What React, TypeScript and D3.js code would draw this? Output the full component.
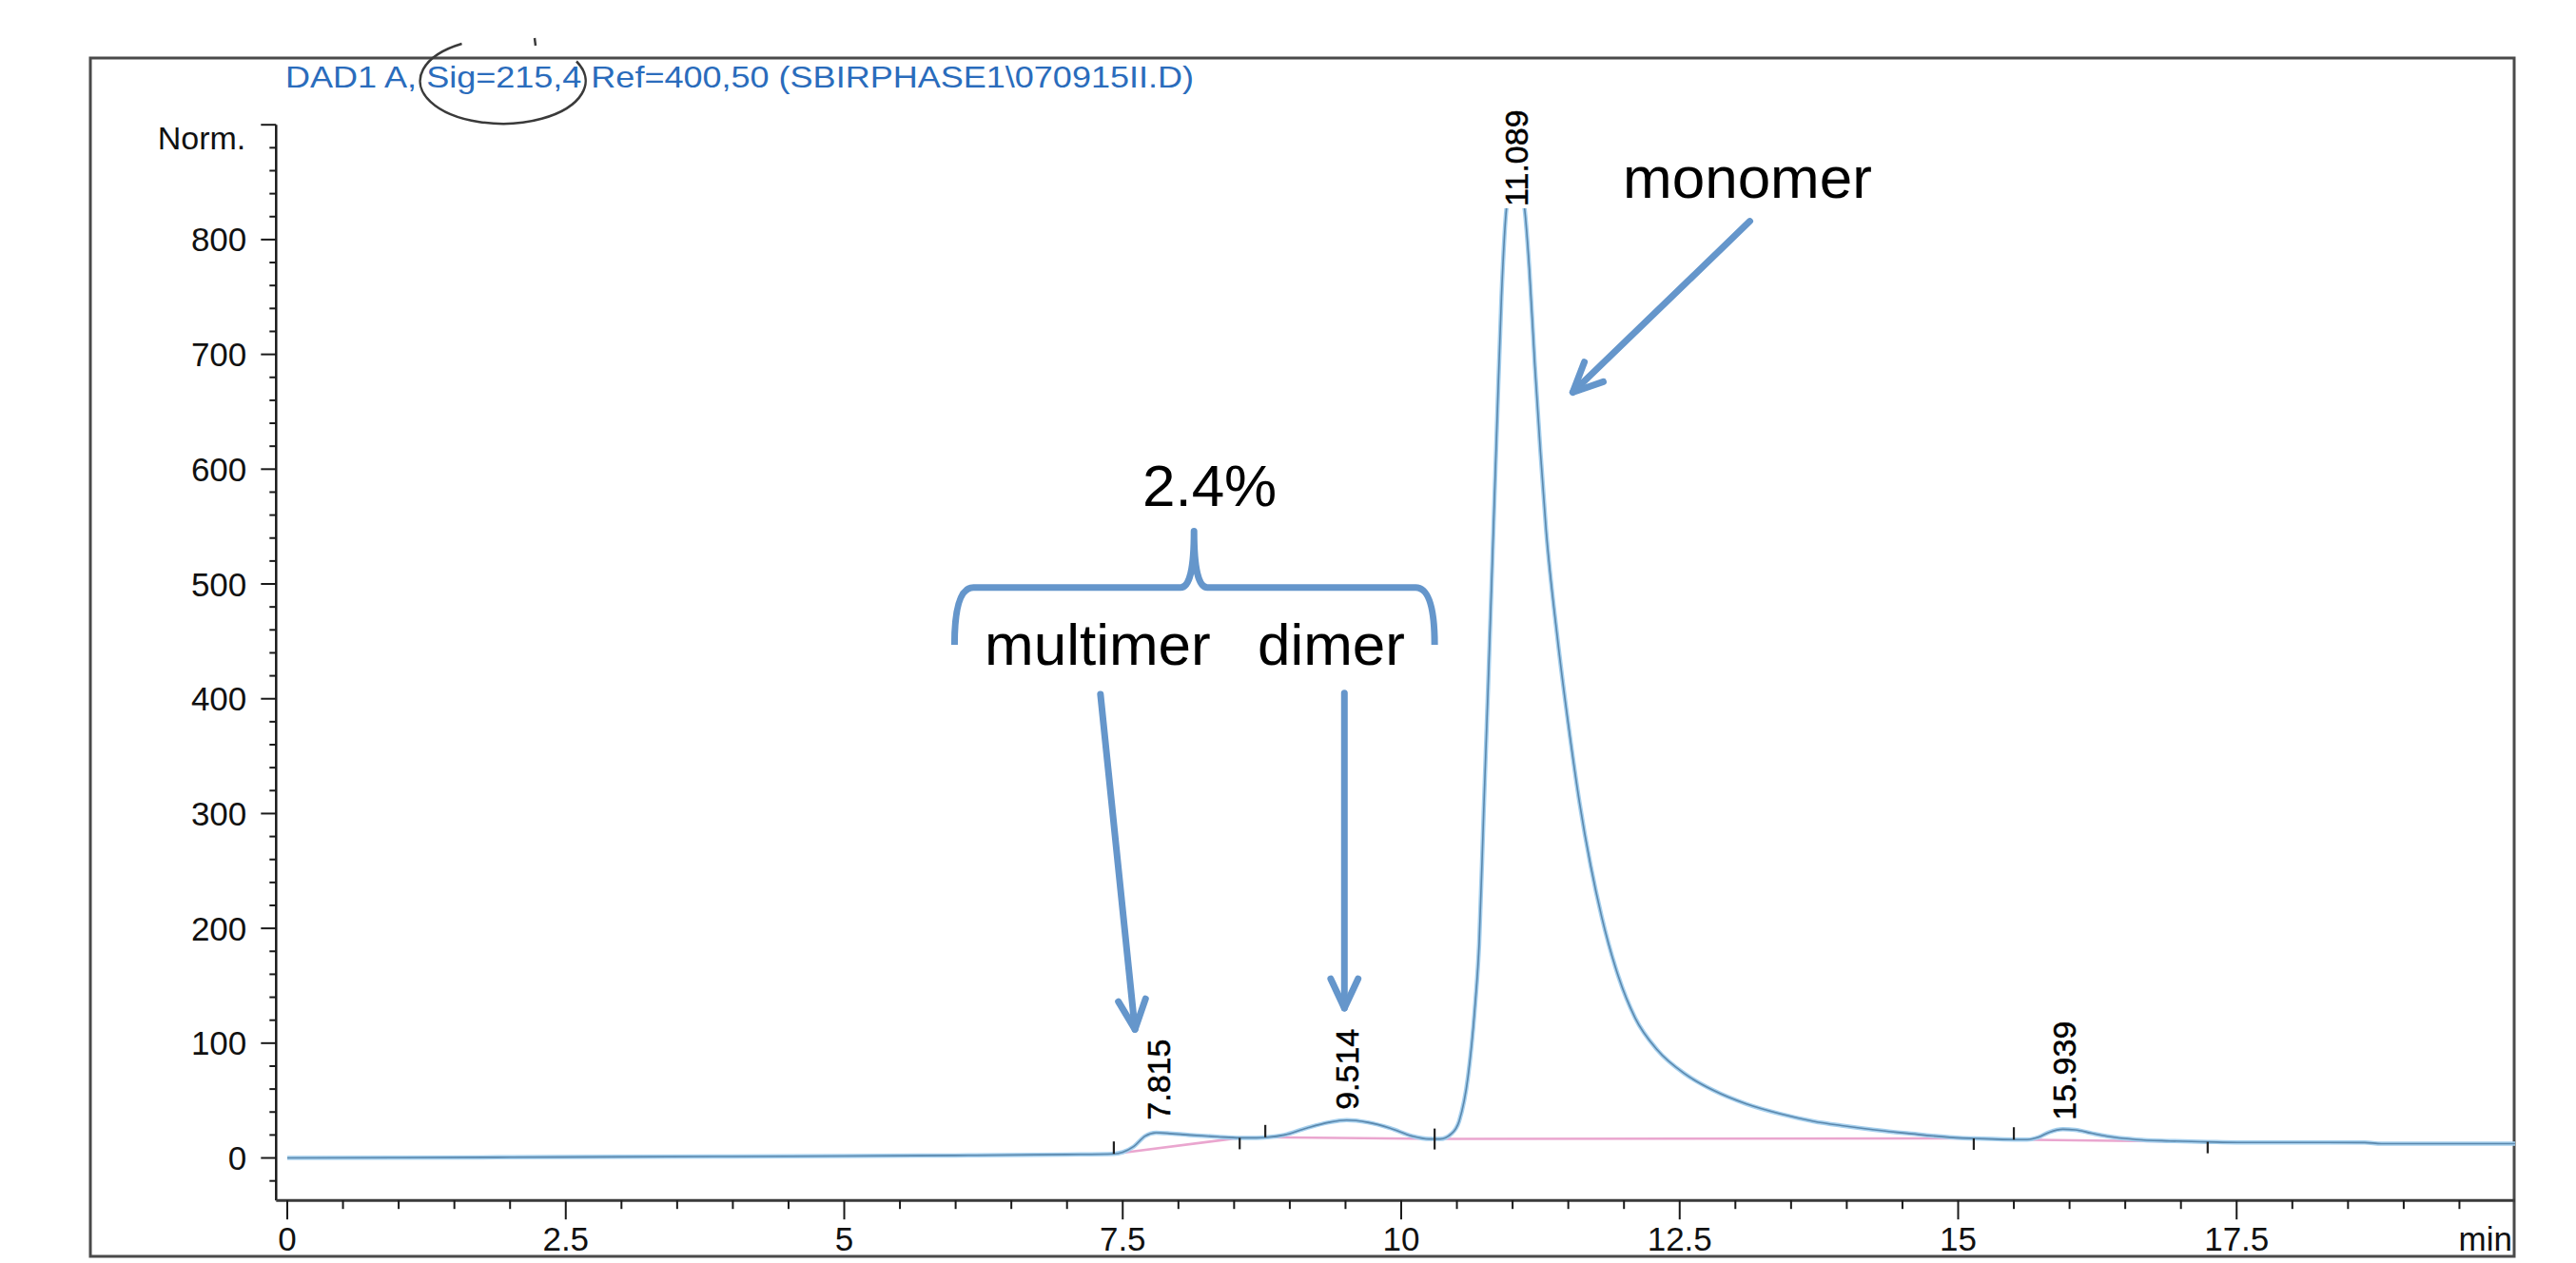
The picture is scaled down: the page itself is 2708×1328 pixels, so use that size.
import React from "react";
import * as d3 from "d3";

const W = 2708;
const H = 1328;

// ---- chromatogram trace (time in min, signal in Norm.)
const traceTime = [
  0, 1, 2, 3, 4, 5, 6, 7, 7.42, 7.5, 7.6, 7.7, 7.8, 7.9, 8.1, 8.35, 8.55, 8.7,
  8.8, 8.95, 9.15, 9.35, 9.51, 9.7, 9.9, 10.1, 10.25, 10.35, 10.45, 10.52, 10.6,
  10.66, 10.7, 10.74, 10.78, 10.82, 10.86, 10.9, 10.94, 10.98, 11.03, 11.07,
  11.11, 11.15, 11.2, 11.25, 11.3, 11.4, 11.5, 11.6, 11.7, 11.8, 11.95, 12.1,
  12.3, 12.55, 12.8, 13.1, 13.4, 13.7, 13.97, 14.25, 14.54, 15.04, 15.14, 15.3,
  15.5, 15.62, 15.72, 15.82, 15.94, 16.05, 16.2, 16.4, 16.6, 16.9, 17.24, 17.5,
  18.0, 18.65, 18.8, 19.3, 20.0,
];
const traceValue = [
  0, 0.3, 0.6, 1.0, 1.3, 1.7, 2.2, 3.0, 3.6, 5, 10, 19, 22, 21.5, 20, 18.5, 17.5,
  17.5, 18, 20, 26, 31, 33, 31, 26, 19, 16.5, 16.5, 21, 32, 71, 129, 187, 300,
  410, 525, 640, 750, 822, 848, 855, 848, 825, 775, 690, 615, 548, 455, 378, 310,
  255, 210, 158, 122, 94, 73, 59, 47, 38.5, 32, 28, 24.5, 21.5, 17.3, 17, 16.5,
  16, 16, 18, 22.5, 25, 24.5, 21.5, 18, 16, 14.8, 14, 13.5, 13.5, 13.4, 12.5,
  12.5, 12.5,
];

// ---- integration baselines (pink)
const baselineStartT = [7.42, 8.78, 10.3, 15.5];
const baselineStartV = [3.6, 18, 16.5, 16];
const baselineEndT = [8.55, 10.3, 15.14, 17.24];
const baselineEndV = [17.5, 16.5, 17, 14];

// ---- integration event ticks
const eventTimes = [7.42, 8.55, 8.78, 10.3, 15.14, 15.5, 17.24];
const eventValues = [3.6, 17.5, 18, 16.5, 17, 16, 14];
const eventSides = ["up", "down", "up", "both", "down", "up", "down"];

// ---- peak retention-time labels
const peakLabels = ["7.815", "9.514", "11.089", "15.939"];
const peakLabelTime = [7.82, 9.51, 11.03, 15.95];
const peakLabelBase = [33, 42, 829, 33];

// ---- axes
const yMajorTicks = [0, 100, 200, 300, 400, 500, 600, 700, 800];
const xMajorTicks = [0, 2.5, 5, 7.5, 10, 12.5, 15, 17.5];
const xTickLabels = ["0", "2.5", "5", "7.5", "10", "12.5", "15", "17.5"];

// ---- text
const titleText = "DAD1 A, Sig=215,4 Ref=400,50 (SBIRPHASE1\\070915II.D)";
const yUnitLabel = "Norm.";
const xUnitLabel = "min";

// ---- annotations (data coordinates: time, value)
const annotationTexts = ["2.4%", "multimer", "dimer", "monomer"];
const annotationT = [8.28, 6.26, 8.71, 11.99];
const annotationV = [568, 430, 430, 836];
const annotationAnchor = ["middle", "start", "start", "start"];

const arrowFromT = [7.3, 9.49, 13.13];
const arrowFromV = [404, 405, 816];
const arrowToT = [7.61, 9.49, 11.54];
const arrowToV = [112, 130.5, 667];

// brace: left end, right end, centre (time) ; bottom / bar / cusp (value)
const braceT = [5.99, 10.3, 8.14];
const braceV = [447, 497, 546];

const FONT = "'Liberation Sans', Arial, Helvetica, sans-serif";
const BLUE = "#6596cb";

export default function App() {
  const x = d3.scaleLinear().domain([-0.1, 20]).range([290.3, 2644]);
  const y = d3.scaleLinear().domain([-37, 900]).range([1262.2, 131.2]);

  const pts: [number, number][] = traceTime.map((t, i) => [t, traceValue[i]]);
  const line = d3
    .line<[number, number]>()
    .x((d) => x(d[0]))
    .y((d) => y(d[1]))
    .curve(d3.curveMonotoneX);
  const tracePath = line(pts) || "";

  const yMinor = d3.range(-20, 901, 20).filter((v) => v % 100 !== 0);
  const yMajorAll = [...yMajorTicks, 900];
  const xMinor = d3
    .range(0, 19.6, 0.5)
    .filter((v) => Math.abs(v / 2.5 - Math.round(v / 2.5)) > 1e-6);

  const x0 = x(-0.1);
  const xAxisY = y(-37);

  const arrow = (i: number) => {
    const x1 = x(arrowFromT[i]);
    const y1 = y(arrowFromV[i]);
    const x2 = x(arrowToT[i]);
    const y2 = y(arrowToV[i]);
    const ang = Math.atan2(y1 - y2, x1 - x2);
    const L = 34;
    const a = (25 * Math.PI) / 180;
    const h1 = [x2 + L * Math.cos(ang + a), y2 + L * Math.sin(ang + a)];
    const h2 = [x2 + L * Math.cos(ang - a), y2 + L * Math.sin(ang - a)];
    return (
      <g
        key={"arr" + i}
        stroke={BLUE}
        strokeWidth={7}
        strokeLinecap="round"
        strokeLinejoin="round"
        fill="none"
      >
        <line x1={x1} y1={y1} x2={x2} y2={y2} />
        <polyline points={`${h1[0]},${h1[1]} ${x2},${y2} ${h2[0]},${h2[1]}`} />
      </g>
    );
  };

  const bl = x(braceT[0]);
  const br = x(braceT[1]);
  const bc = x(braceT[2]);
  const bBot = y(braceV[0]);
  const bBar = y(braceV[1]);
  const bTop = y(braceV[2]);
  const bracePath = `M ${bl},${bBot} Q ${bl},${bBar} ${bl + 20},${bBar} L ${bc - 14},${bBar} Q ${bc},${bBar} ${bc},${bTop} Q ${bc},${bBar} ${bc + 14},${bBar} L ${br - 20},${bBar} Q ${br},${bBar} ${br},${bBot}`;

  return (
    <svg
      width={W}
      height={H}
      viewBox={`0 0 ${W} ${H}`}
      style={{ position: "absolute", left: 0, top: 0, display: "block", background: "#fff" }}
      fontFamily={FONT}
    >
      <rect x={0} y={0} width={W} height={H} fill="#fff" />
      {/* outer frame */}
      <rect x={95} y={61} width={2548} height={1260} fill="none" stroke="#4a4a4a" strokeWidth={3} />

      {/* hand-drawn circle */}
      <path d="M 485.5 46 A 87 45 0 1 0 606 64.5" fill="none" stroke="#3a3a3a" strokeWidth={2.5} />
      <line x1={562} y1={40} x2={563} y2={48} stroke="#3a3a3a" strokeWidth={2.5} />

      {/* title */}
      <text x={300} y={92} fontSize={32} fill="#2a6cbc" textLength={955} lengthAdjust="spacingAndGlyphs">
        {titleText}
      </text>

      {/* y axis */}
      <line x1={x0} y1={xAxisY} x2={x0} y2={y(900)} stroke="#1a1a1a" strokeWidth={2.5} />
      {yMinor.map((v) => (
        <line key={"ym" + v} x1={x0 - 7} x2={x0} y1={y(v)} y2={y(v)} stroke="#1a1a1a" strokeWidth={2} />
      ))}
      {yMajorAll.map((v) => (
        <line key={"yM" + v} x1={x0 - 16} x2={x0} y1={y(v)} y2={y(v)} stroke="#1a1a1a" strokeWidth={2} />
      ))}
      {yMajorTicks.map((v) => (
        <text key={"yl" + v} x={x0 - 31} y={y(v) + 12.5} fontSize={35} textAnchor="end" fill="#111">
          {v}
        </text>
      ))}
      <text x={x0 - 32} y={157} fontSize={34} textAnchor="end" fill="#111">
        {yUnitLabel}
      </text>

      {/* x axis */}
      <line x1={x0} y1={xAxisY} x2={x(20)} y2={xAxisY} stroke="#3a3a3a" strokeWidth={3} />
      {xMinor.map((t) => (
        <line key={"xm" + t} x1={x(t)} x2={x(t)} y1={xAxisY} y2={xAxisY + 9} stroke="#1a1a1a" strokeWidth={2} />
      ))}
      {xMajorTicks.map((t) => (
        <line key={"xM" + t} x1={x(t)} x2={x(t)} y1={xAxisY} y2={xAxisY + 20} stroke="#1a1a1a" strokeWidth={2} />
      ))}
      {xMajorTicks.map((t, i) => (
        <text key={"xl" + t} x={x(t)} y={1315} fontSize={35} textAnchor="middle" fill="#111">
          {xTickLabels[i]}
        </text>
      ))}
      <text x={x(20) - 3} y={1315} fontSize={35} textAnchor="end" fill="#111">
        {xUnitLabel}
      </text>

      {/* integration baselines */}
      {baselineStartT.map((t, i) => (
        <line
          key={"bl" + i}
          x1={x(t)}
          y1={y(baselineStartV[i])}
          x2={x(baselineEndT[i])}
          y2={y(baselineEndV[i])}
          stroke="#eaa6cf"
          strokeWidth={2.5}
        />
      ))}

      {/* trace */}
      <path d={tracePath} fill="none" stroke="#a6d0ee" strokeWidth={4.5} strokeLinejoin="round" />
      <path d={tracePath} fill="none" stroke="#5b88ad" strokeWidth={1.6} strokeLinejoin="round" />

      {/* event ticks */}
      {eventTimes.map((t, i) => {
        const yy = y(eventValues[i]);
        const s = eventSides[i];
        const y1 = s === "down" ? yy : s === "up" ? yy - 13 : yy - 11;
        const y2 = s === "down" ? yy + 12 : s === "up" ? yy : yy + 11;
        return <line key={"ev" + i} x1={x(t)} x2={x(t)} y1={y1} y2={y2} stroke="#222" strokeWidth={2.2} />;
      })}

      {/* peak labels */}
      {peakLabels.map((lab, i) => {
        const px = x(peakLabelTime[i]);
        const py = y(peakLabelBase[i]);
        const len = lab.length * 0.556 * 34 - (lab.includes(".") ? 0.278 * 34 : 0);
        return (
          <g key={"pl" + i} transform={`translate(${px},${py}) rotate(-90)`}>
            <rect x={-2} y={-14} width={len + 4} height={28} fill="#fff" />
            <text x={0} y={0} dy="0.36em" fontSize={34} fill="#000" stroke="#000" strokeWidth={0.5}>
              {lab}
            </text>
          </g>
        );
      })}

      {/* annotations */}
      <path d={bracePath} fill="none" stroke={BLUE} strokeWidth={7} strokeLinecap="butt" strokeLinejoin="round" />
      {arrowFromT.map((_, i) => arrow(i))}
      {annotationTexts.map((s, i) => (
        <text
          key={"an" + i}
          x={x(annotationT[i])}
          y={y(annotationV[i])}
          fontSize={62}
          textAnchor={annotationAnchor[i] as any}
          fill="#000"
        >
          {s}
        </text>
      ))}
    </svg>
  );
}
